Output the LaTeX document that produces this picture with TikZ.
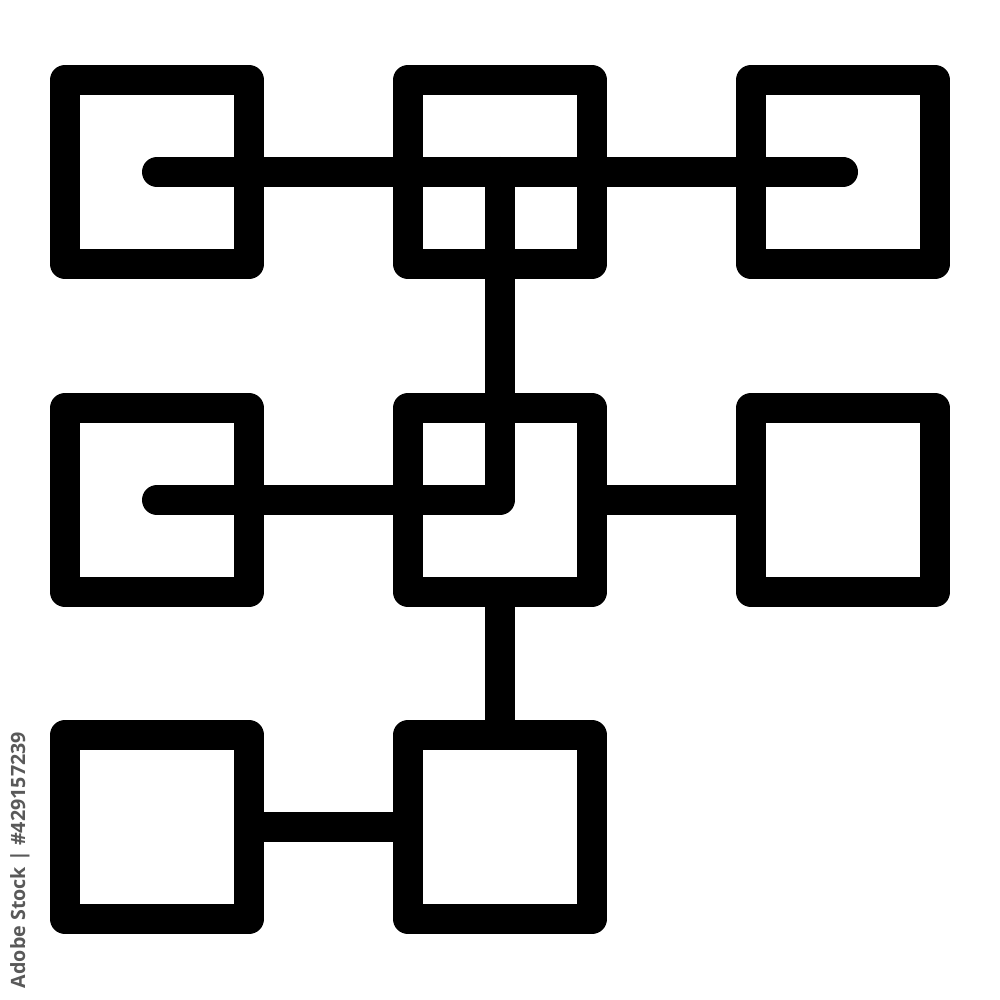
\documentclass[tikz,border=0pt]{standalone}
\usepackage{fontspec}
\usepackage{tikz}
\newfontfamily\stockfont{Open Sans}
\tikzstyle{square} = [rectangle, minimum size=1.84cm, inner sep=0pt, draw=black, line width=0.3cm, line join=round]
\tikzstyle{link} = [draw=black, line width=0.3cm, line join=round, line cap=round]
\tikzstyle{bar} = [draw=black, line width=0.3cm]
\tikzstyle{stamp} = [rotate=90, inner sep=0pt, text=black!65, font=\stockfont\bfseries\fontsize{5.6pt}{7pt}\selectfont]

\begin{document}
\begin{tikzpicture}[node distance=3.43cm]
\useasboundingbox (0,0) rectangle (10,10);
\node (b11) [square] at (1.57,8.28) {};
\node (b12) [square, right of=b11] {};
\node (b13) [square, right of=b12] {};
\node (b21) [square, below of=b11, yshift=0.15cm] {};
\node (b22) [square, right of=b21] {};
\node (b23) [square, right of=b22] {};
\node (b31) [square, below of=b21, yshift=0.16cm] {};
\node (b32) [square, right of=b31] {};
\node (id) [stamp] at (0.2,1.4) {Adobe Stock | \#429157239};


\draw [link] (b11.center) -- (b13.center);
\draw [link] (b12.center) -- (b22.center) -- (b21.center);
\draw [bar] (b22) -- (b23);
\draw [bar] (b22) -- (b32);
\draw [bar] (b31) -- (b32);

\end{tikzpicture}
\end{document}
